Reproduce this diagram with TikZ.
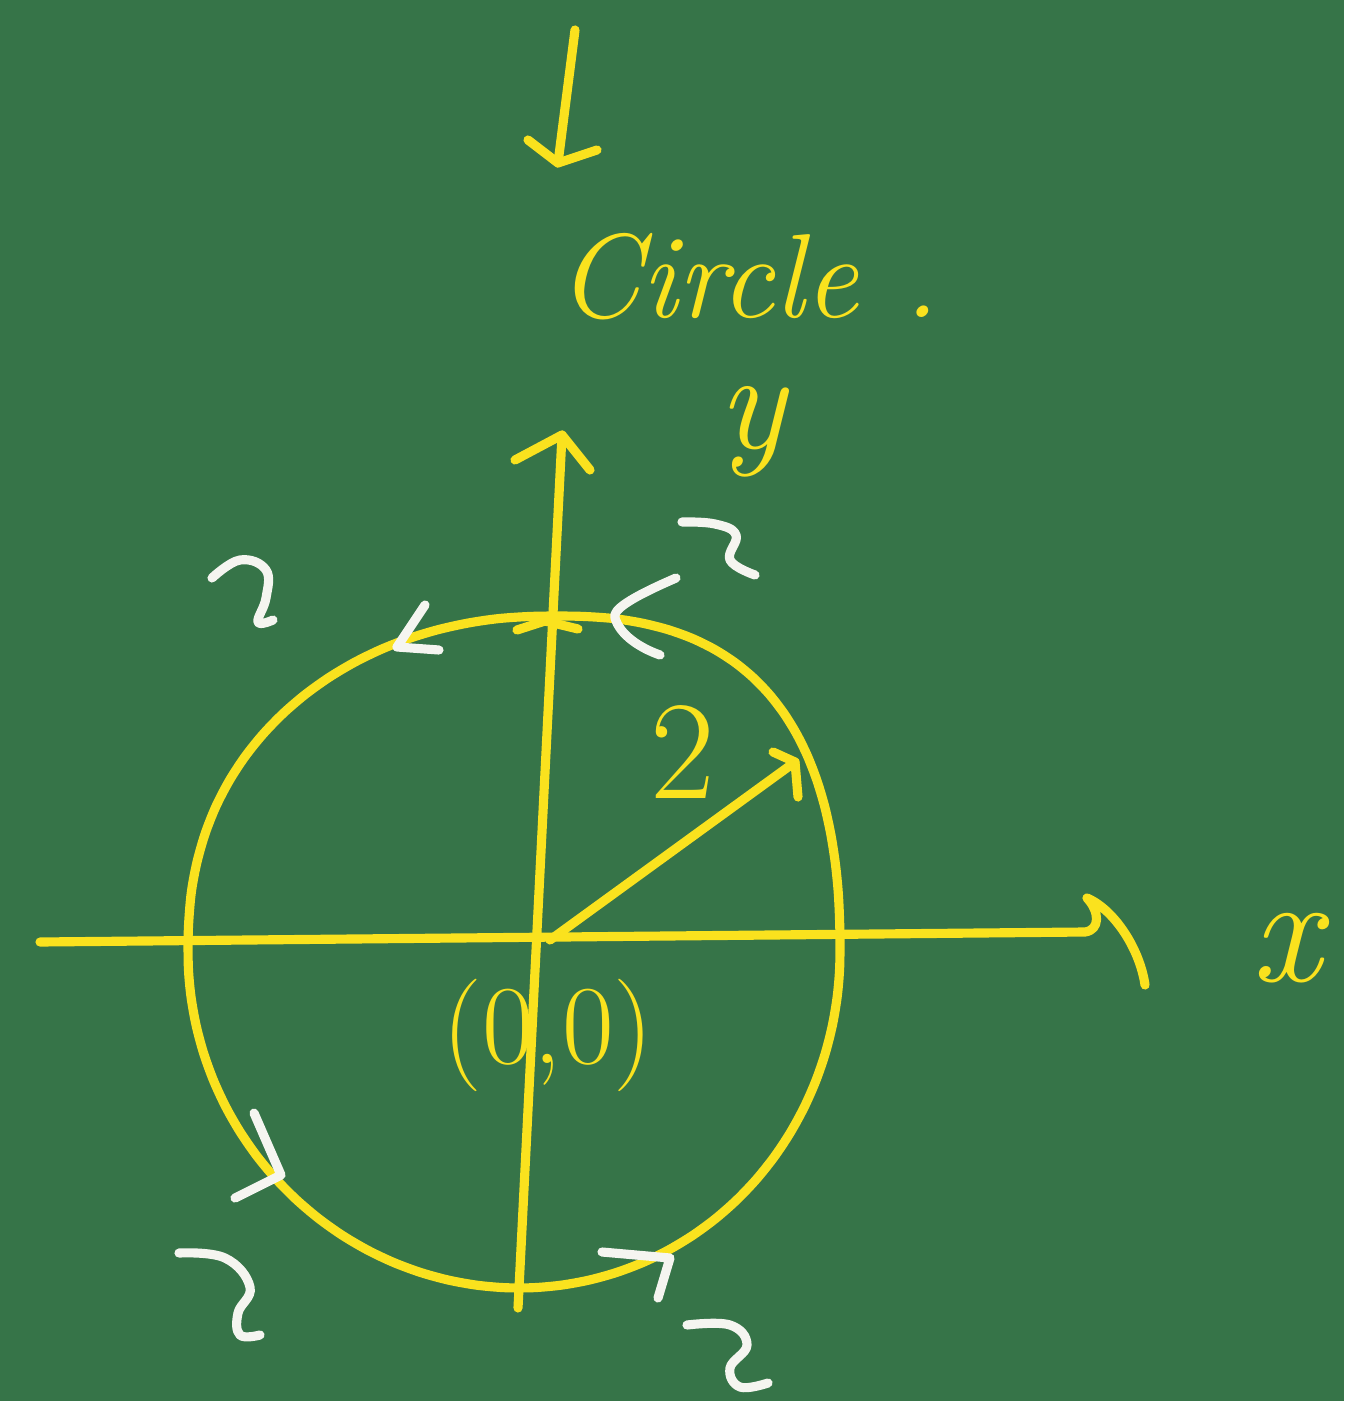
\documentclass[tikz,border=0pt]{standalone}
\usepackage{tikz}
\usetikzlibrary{positioning}
\definecolor{board}{RGB}{54,116,72}
\definecolor{chalkyellow}{RGB}{250,226,30}
\definecolor{chalkwhite}{RGB}{245,245,240}
\tikzset{
  chalk/.style={draw=chalkyellow,line width=2.6pt,line cap=round,line join=round},
  whitechalk/.style={draw=chalkwhite,line width=2.6pt,line cap=round,line join=round},
  lbl/.style={text=chalkyellow,inner sep=0pt},
  declare function={
    hx(\t)=ifthenelse(sin(\t)>0,326*sign(cos(\t))*abs(cos(\t))^0.87,326*cos(\t));
    hy(\t)=ifthenelse(sin(\t)>0,336*abs(sin(\t))^0.87,336*sin(\t));
    sh(\t)=ifthenelse(sin(\t)>0,43*sin(\t)^2,5*sin(\t)^2);
  }
}

\begin{document}
\begin{tikzpicture}[x=0.01cm,y=-0.01cm]
  \fill[board] (0,0) rectangle (1344,1401);
  \useasboundingbox (0,0) rectangle (1344,1401);

  % title and the arrow pointing at it
  \node[lbl,anchor=base west,font=\fontsize{34}{40}\selectfont\itshape] (title) at (557,318) {Circle\hspace{0.45cm}.};
  \coordinate (pentop) at (575,30);
  \coordinate (pentip) at (558,163);
  \draw[chalk] (pentop) -- (pentip);
  \draw[chalk] (528,140) -- (pentip) -- (597,150);

  % axes
  \coordinate (O) at (545,928);
  \coordinate (xstart) at (40,942);
  \coordinate (xend) at (1085,932);
  \coordinate (ybot) at (518,1308);
  \coordinate (ytop) at (562,435);
  \draw[chalk] (xstart) -- (xend) .. controls (1100,930) and (1100,912) .. (1087,898)
    .. controls (1115,910) and (1140,950) .. (1145,985);
  \draw[chalk] (ybot) -- (ytop);
  \draw[chalk] (515,460) -- (ytop) -- (590,470);

  % the circle
  \draw[chalk] plot[smooth cycle,domain=2.5:357.5,samples=72,variable=\t]
    ({514+hx(\t)+sh(\t)},{952-hy(\t)});
  \draw[chalk] (517,630) -- (545,621) -- (578,629);

  % radius
  \coordinate (R) at (795,762);
  \draw[chalk] (550,940) -- (R);
  \draw[chalk] (773,752) -- (R) -- (798,797);

  % labels
  \node[lbl,font=\fontsize{40}{44}\selectfont\itshape] (ylbl) at (752,432) {y};
  \node[lbl,font=\fontsize{44}{48}\selectfont\itshape] (xlbl) at (1286,948) {x};
  \node[lbl,font=\fontsize{40}{44}\selectfont] (rlbl) at (683,752) {2};
  \node[lbl,font=\fontsize{32}{36}\selectfont] (olbl) at (548,1035) {(0,0)};

  % white direction marks
  \draw[whitechalk] (425,605) -- (397,647) -- (439,650);
  \draw[whitechalk] (676,578) .. controls (630,598) and (612,610) .. (615,618)
    .. controls (620,635) and (640,648) .. (660,655);
  \draw[whitechalk] (254,1113) -- (281,1175) -- (235,1198);
  \draw[whitechalk] (602,1252) -- (670,1258) -- (658,1298);

  % white squiggles
  \draw[whitechalk] plot[smooth,tension=0.7] coordinates {(212,578) (240,560) (266,570) (266,598) (258,622) (273,620)};
  \draw[whitechalk] plot[smooth,tension=0.7] coordinates {(682,522) (715,524) (736,535) (730,560) (755,575)};
  \draw[whitechalk] plot[smooth,tension=0.7] coordinates {(179,1253) (225,1258) (250,1287) (238,1313) (240,1335) (260,1335)};
  \draw[whitechalk] plot[smooth,tension=0.7] coordinates {(687,1325) (730,1325) (747,1345) (730,1368) (740,1387) (768,1383)};
\end{tikzpicture}
\end{document}
